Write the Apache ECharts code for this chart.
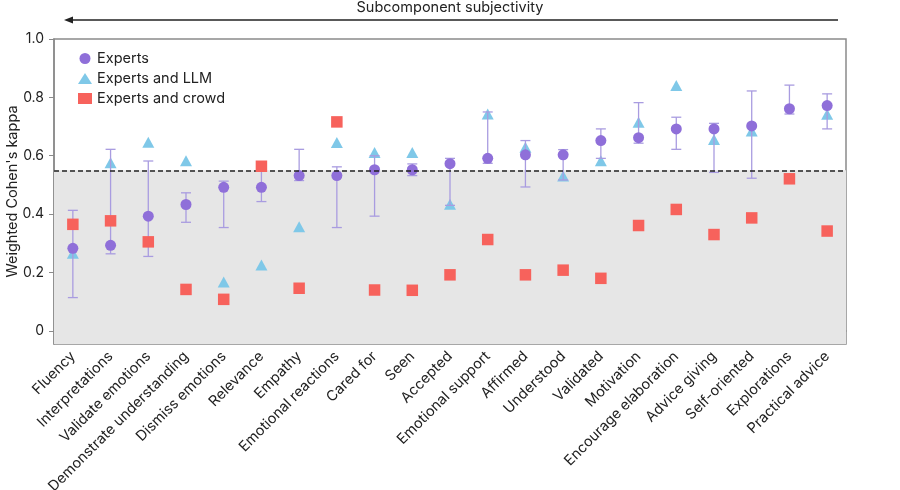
<!DOCTYPE html>
<html>
<head>
<meta charset="utf-8">
<script src="https://cdn.jsdelivr.net/npm/echarts@6/dist/echarts.min.js"></script>
<style>
  html, body { margin: 0; padding: 0; background: #fff; }
  #chart { width: 900px; height: 490px; }
</style>
</head>
<body>
<div id="chart"></div>
<script>
const categories = [
  'Fluency', 'Interpretations', 'Validate emotions', 'Demonstrate understanding',
  'Dismiss emotions', 'Relevance', 'Empathy', 'Emotional reactions', 'Cared for',
  'Seen', 'Accepted', 'Emotional support', 'Affirmed', 'Understood', 'Validated',
  'Motivation', 'Encourage elaboration', 'Advice giving', 'Self-oriented',
  'Explorations', 'Practical advice'
]
const experts = [0.283, 0.293, 0.393, 0.433, 0.492, 0.492, 0.532, 0.532, 0.552, 0.552, 0.573,
  0.591, 0.603, 0.603, 0.652, 0.662, 0.692, 0.692, 0.702, 0.761, 0.772]
const expertsLow = [0.114, 0.264, 0.255, 0.372, 0.354, 0.443, 0.515, 0.354, 0.393, 0.532, 0.43,
  0.574, 0.493, 0.517, 0.591, 0.643, 0.622, 0.543, 0.523, 0.743, 0.692]
const expertsHigh = [0.413, 0.622, 0.582, 0.473, 0.513, 0.56, 0.622, 0.562, 0.60, 0.572, 0.591,
  0.75, 0.652, 0.621, 0.692, 0.782, 0.732, 0.711, 0.822, 0.842, 0.812]
const expertsLlm = [0.266, 0.576, 0.646, 0.583, 0.167, 0.226, 0.357, 0.645, 0.611, 0.611, 0.434,
  0.743, 0.629, 0.531, 0.583, 0.715, 0.841, 0.656, 0.685, null, 0.742]
const expertsCrowd = [0.365, 0.377, 0.305, 0.142, 0.108, 0.564, 0.146, 0.716, 0.140, 0.139, 0.192,
  0.313, 0.192, 0.208, 0.180, 0.361, 0.416, 0.330, 0.387, 0.521, 0.342]
const yTicks = [0, 0.2, 0.4, 0.6, 0.8, 1.0]
const threshold = 0.55
const yMin = -0.045
const yMax = 1.0

const purple = '#8f6fd9'
const blue = '#7fc8e8'
const red = '#f7625c'
const errColor = '#a99ce0'
const axisGray = '#8a8a8a'
const font = 'Inter'

const chart = echarts.init(document.getElementById('chart'))

const option = {
  animation: false,
  textStyle: { fontFamily: font },
  grid: {
    left: 54, right: 54, top: 39, bottom: 146,
    outerBoundsMode: 'none', containLabel: false,
    show: true, borderColor: axisGray, borderWidth: 1.5, backgroundColor: 'transparent'
  },
  legend: {
    data: ['Experts', 'Experts and LLM', 'Experts and crowd'],
    orient: 'vertical',
    left: 73, top: 46,
    itemWidth: 14, itemHeight: 11, itemGap: 5,
    textStyle: { fontSize: 14.5, color: '#222', fontFamily: font }
  },
  xAxis: {
    type: 'category',
    data: categories,
    boundaryGap: true,
    axisLine: { lineStyle: { color: axisGray, width: 1.5 } },
    axisTick: { alignWithLabel: true, length: 5, lineStyle: { color: axisGray } },
    axisLabel: { rotate: 45, fontSize: 14.5, color: '#222', margin: 10, interval: 0 },
    splitLine: { show: false }
  },
  yAxis: {
    type: 'value',
    min: yMin, max: yMax,
    name: "Weighted Cohen's kappa",
    nameLocation: 'middle',
    nameGap: 34,
    nameMoveOverlap: false,
    nameTextStyle: { fontSize: 14.5, color: '#222' },
    axisLine: { show: true, lineStyle: { color: axisGray, width: 1.5 } },
    axisTick: { show: true, length: 5, customValues: yTicks, lineStyle: { color: axisGray } },
    axisLabel: {
      fontSize: 14, color: '#222', margin: 10, customValues: yTicks,
      formatter: v => (v === 0 ? '0' : v.toFixed(1))
    },
    splitLine: { show: false }
  },
  graphic: [
    {
      type: 'text', left: 'center', top: 0,
      style: { text: 'Subcomponent subjectivity', fontSize: 14.5, fill: '#222', fontFamily: font }
    },
    {
      type: 'line', shape: { x1: 70, y1: 20, x2: 838, y2: 20 },
      style: { stroke: '#222', lineWidth: 1.3 }
    },
    {
      type: 'polygon', shape: { points: [[64, 20], [73, 16.5], [73, 23.5]] },
      style: { fill: '#222' }
    }
  ],
  series: [
    {
      name: 'band', type: 'line', data: [], z: 1, silent: true,
      markArea: {
        silent: true,
        itemStyle: { color: '#e6e6e6' },
        data: [[{ yAxis: yMin }, { yAxis: threshold }]]
      },
      markLine: {
        silent: true, symbol: 'none', label: { show: false },
        lineStyle: { color: '#222', type: [5, 3], width: 1.5 },
        data: [{ yAxis: threshold }]
      }
    },
    {
      name: 'Experts and LLM', type: 'scatter', z: 2,
      symbol: 'triangle', symbolSize: [12, 11],
      itemStyle: { color: blue, opacity: 1 },
      data: expertsLlm
    },
    {
      name: 'error', type: 'custom', z: 3, silent: true,
      data: categories.map((c, i) => [i, expertsLow[i], expertsHigh[i]]),
      renderItem: (params, api) => {
        const lo = api.coord([api.value(0), api.value(1)])
        const hi = api.coord([api.value(0), api.value(2)])
        const w = 5
        const st = { stroke: errColor, lineWidth: 1.3 }
        return {
          type: 'group',
          children: [
            { type: 'line', shape: { x1: lo[0], y1: lo[1], x2: hi[0], y2: hi[1] }, style: st },
            { type: 'line', shape: { x1: lo[0] - w, y1: lo[1], x2: lo[0] + w, y2: lo[1] }, style: st },
            { type: 'line', shape: { x1: hi[0] - w, y1: hi[1], x2: hi[0] + w, y2: hi[1] }, style: st }
          ]
        }
      }
    },
    {
      name: 'Experts', type: 'scatter', z: 4,
      symbol: 'circle', symbolSize: 11,
      itemStyle: { color: purple, opacity: 1 },
      data: experts
    },
    {
      name: 'Experts and crowd', type: 'scatter', z: 5,
      symbol: 'rect', symbolSize: 11.5,
      itemStyle: { color: red, opacity: 1 },
      data: expertsCrowd
    }
  ]
}

chart.setOption(option)
</script>
</body>
</html>
